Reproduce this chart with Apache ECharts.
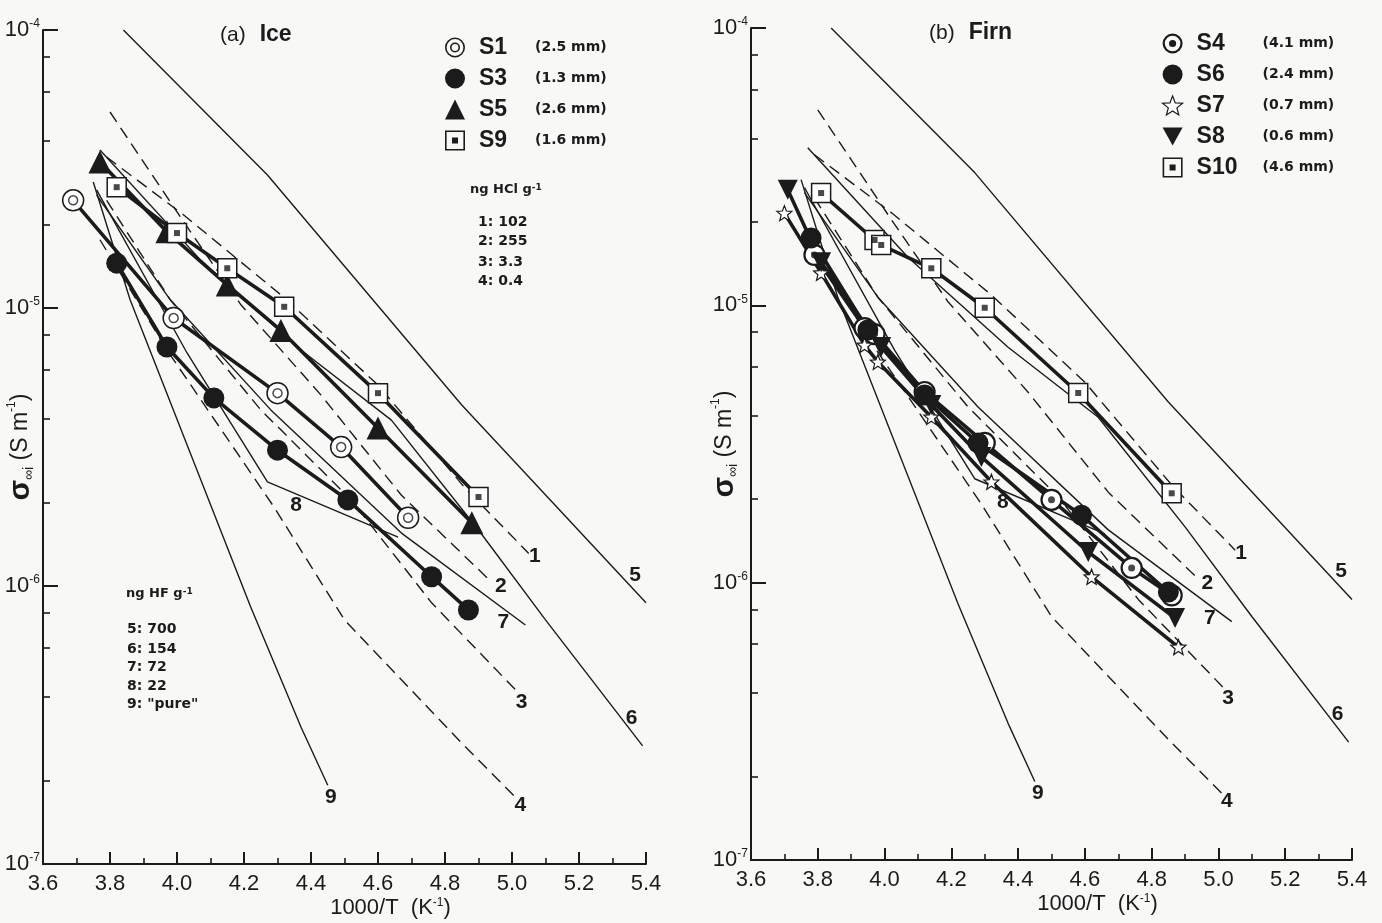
<!DOCTYPE html>
<html>
<head>
<meta charset="utf-8">
<title>Ice and firn conductivity</title>
<script src="https://cdn.jsdelivr.net/npm/echarts@6/dist/echarts.min.js"></script>
<style>
  html, body { margin: 0; padding: 0; background: #f8f9f6; }
  #chart { width: 1382px; height: 923px; }
</style>
</head>
<body>
<div id="chart"></div>
<script>
// points are [1000/T (K^-1), sigma (S m^-1)]

// (a) Ice samples
const s1 = [[3.69, 2.44e-5], [3.99, 9.2e-6], [4.30, 4.94e-6], [4.49, 3.16e-6], [4.69, 1.76e-6]];
const s3 = [[3.82, 1.45e-5], [3.97, 7.24e-6], [4.11, 4.75e-6], [4.30, 3.08e-6], [4.51, 2.04e-6], [4.76, 1.08e-6], [4.87, 8.2e-7]];
const s5 = [[3.77, 3.35e-5], [3.97, 1.88e-5], [4.15, 1.21e-5], [4.31, 8.3e-6], [4.60, 3.70e-6], [4.88, 1.69e-6]];
const s9 = [[3.82, 2.72e-5], [4.00, 1.86e-5], [4.15, 1.39e-5], [4.32, 1.01e-5], [4.60, 4.94e-6], [4.90, 2.09e-6]];

// (b) Firn samples
const s4 = [[3.79, 1.52e-5], [3.94, 8.28e-6], [3.97, 7.88e-6], [4.12, 4.87e-6], [4.30, 3.19e-6], [4.50, 1.99e-6], [4.74, 1.13e-6], [4.86, 9.0e-7]];
const s6 = [[3.78, 1.75e-5], [3.95, 8.15e-6], [4.12, 4.75e-6], [4.28, 3.19e-6], [4.59, 1.75e-6], [4.85, 9.25e-7]];
const s7 = [[3.70, 2.15e-5], [3.81, 1.31e-5], [3.94, 7.19e-6], [3.98, 6.25e-6], [4.14, 3.96e-6], [4.32, 2.31e-6], [4.62, 1.05e-6], [4.88, 5.86e-7]];
const s8 = [[3.71, 2.61e-5], [3.81, 1.43e-5], [3.99, 7.07e-6], [4.14, 4.37e-6], [4.29, 2.84e-6], [4.61, 1.29e-6], [4.87, 7.45e-7]];
const s10 = [[3.81, 2.54e-5], [3.97, 1.72e-5], [3.99, 1.65e-5], [4.14, 1.36e-5], [4.30, 9.8e-6], [4.58, 4.83e-6], [4.86, 2.10e-6]];

const sampleThickness = { S1: '2.5', S3: '1.3', S5: '2.6', S9: '1.6', S4: '4.1', S6: '2.4', S7: '0.7', S8: '0.6', S10: '4.6' };

// reference curves, same in both panels (1-4 HCl doped, 5-9 HF doped)
const hcl1 = [[3.79, 3.49e-5], [4.02, 2.16e-5], [4.32, 1.09e-5], [4.60, 5.28e-6], [4.86, 2.25e-6], [5.05, 1.31e-6]];
const hcl2 = [[3.80, 5.07e-5], [4.02, 2.04e-5], [4.19, 1.03e-5], [4.43, 4.86e-6], [4.67, 2.12e-6], [4.94, 1.03e-6]];
const hcl3 = [[3.79, 2.44e-5], [3.98, 1.07e-5], [4.25, 4.30e-6], [4.52, 2.04e-6], [4.76, 8.7e-7], [5.02, 4.12e-7]];
const hcl4 = [[3.77, 1.76e-5], [3.97, 7.06e-6], [4.29, 1.92e-6], [4.50, 7.55e-7], [4.85, 2.72e-7], [5.01, 1.74e-7]];
const hf5 = [[3.84, 1e-4], [4.27, 3.01e-5], [4.85, 4.48e-6], [5.40, 8.7e-7]];
const hf6 = [[3.77, 3.70e-5], [4.07, 1.49e-5], [4.37, 7.06e-6], [4.64, 3.95e-6], [4.90, 1.59e-6], [5.10, 7.55e-7], [5.39, 2.66e-7]];
const hf7 = [[3.76, 2.55e-5], [3.98, 1.07e-5], [4.28, 4.30e-6], [4.67, 1.55e-6], [5.04, 7.24e-7]];
const hf8 = [[3.76, 2.66e-5], [4.03, 6.89e-6], [4.27, 2.37e-6], [4.66, 1.50e-6]];
const hf9 = [[3.75, 2.84e-5], [3.86, 1.07e-5], [4.22, 8.4e-7], [4.37, 3.11e-7], [4.45, 1.92e-7]];

const hclAmounts = ['102', '255', '3.3', '0.4'];
const hfAmounts = ['700', '154', '72', '22', '"pure"'];

const minorTickValues = [2e-7, 4e-7, 6e-7, 8e-7, 2e-6, 4e-6, 6e-6, 8e-6, 2e-5, 4e-5, 6e-5, 8e-5];

const ink = '#1b1b1b';
const paper = '#f8f9f6';
const font = '"Liberation Sans", Arial, Helvetica, sans-serif';
const smallFont = '"DejaVu Sans", Verdana, sans-serif';

function ring(cx, cy, r, cw) {
  const s = cw ? 1 : 0;
  return `M${cx - r},${cy}A${r},${r},0,1,${s},${cx + r},${cy}A${r},${r},0,1,${s},${cx - r},${cy}Z`;
}
function starPath(R, r) {
  const p = [];
  for (let k = 0; k < 10; k++) {
    const a = -Math.PI / 2 + k * Math.PI / 5;
    const d = k % 2 ? r : R;
    p.push((R + d * Math.cos(a)).toFixed(2) + ',' + (R + d * Math.sin(a)).toFixed(2));
  }
  return 'path://M' + p.join('L') + 'Z';
}

const ICON_DRING = 'path://' + ring(10, 10, 10, 1) + ring(10, 10, 8.4, 0) + ring(10, 10, 5, 1) + ring(10, 10, 3.4, 0);
const ICON_RINGDOT = 'path://' + ring(10, 10, 10, 1) + ring(10, 10, 7.8, 0) + ring(10, 10, 3.6, 1);
const ICON_BOX = 'path://M0,0H20V20H0Z M1.6,1.6V18.4H18.4V1.6Z M7,7H13V13H7Z';
const TRI_DOWN = 'path://M0,0L20,0L10,18Z';
const STAR = starPath(10, 4.3);

const marks = {
  dring: { symbol: 'circle', size: 21, item: { color: '#fff', borderColor: ink, borderWidth: 1.5 },
    inner: { symbol: 'circle', size: 9, item: { color: '#fff', borderColor: ink, borderWidth: 1.5 } },
    icon: ICON_DRING, iconStyle: { color: ink, borderWidth: 0 } },
  dot: { symbol: 'circle', size: 21, item: { color: ink }, icon: 'circle', iconStyle: { color: ink } },
  tri: { symbol: 'triangle', size: 23, item: { color: ink }, icon: 'triangle', iconStyle: { color: ink } },
  box: { symbol: 'rect', size: 19, item: { color: '#fff', borderColor: ink, borderWidth: 1.5 },
    inner: { symbol: 'rect', size: 6, item: { color: ink } },
    icon: ICON_BOX, iconStyle: { color: ink, borderWidth: 0 } },
  ringdot: { symbol: 'circle', size: 20, item: { color: '#fff', borderColor: ink, borderWidth: 2.2 },
    inner: { symbol: 'circle', size: 7, item: { color: ink } },
    icon: ICON_RINGDOT, iconStyle: { color: ink, borderWidth: 0 } },
  star: { symbol: STAR, size: 15, item: { color: '#fff', borderColor: ink, borderWidth: 1.2 },
    icon: STAR, iconStyle: { color: '#fff', borderColor: ink, borderWidth: 1.2 } },
  tridown: { symbol: TRI_DOWN, size: 20, item: { color: ink }, icon: TRI_DOWN, iconStyle: { color: ink } }
};

const samples = [
  { panel: 0, name: 'S1', pts: s1, mark: 'dring' },
  { panel: 0, name: 'S3', pts: s3, mark: 'dot' },
  { panel: 0, name: 'S5', pts: s5, mark: 'tri' },
  { panel: 0, name: 'S9', pts: s9, mark: 'box' },
  { panel: 1, name: 'S4', pts: s4, mark: 'ringdot' },
  { panel: 1, name: 'S6', pts: s6, mark: 'dot' },
  { panel: 1, name: 'S7', pts: s7, mark: 'star' },
  { panel: 1, name: 'S8', pts: s8, mark: 'tridown' },
  { panel: 1, name: 'S10', pts: s10, mark: 'box' }
];

const curves = [
  { tag: '1', pts: hcl1, dashed: true, off: [6, 3] },
  { tag: '2', pts: hcl2, dashed: true, off: [9, 4] },
  { tag: '3', pts: hcl3, dashed: true, off: [3, 9] },
  { tag: '4', pts: hcl4, dashed: true, off: [5, 8] },
  { tag: '5', pts: hf5, dashed: false, off: [-11, -28] },
  { tag: '6', pts: hf6, dashed: false, off: [-11, -28] },
  { tag: '7', pts: hf7, dashed: false, off: [-22, -3] },
  { tag: '8', pts: hf8, dashed: false, off: [-102, -32] },
  { tag: '9', pts: hf9, dashed: false, off: [3, 12] }
];

const grids = [
  { left: 43, top: 30, width: 603, height: 834, containLabel: false, outerBoundsMode: 'none' },
  { left: 751, top: 28, width: 601, height: 832, containLabel: false, outerBoundsMode: 'none' }
];

function xAxisFor(i) {
  return {
    type: 'value', gridIndex: i, min: 3.6, max: 5.4, interval: 0.2,
    axisLine: { lineStyle: { color: ink, width: 2 } },
    axisTick: { inside: true, length: 12, lineStyle: { color: ink, width: 2 } },
    minorTick: { show: true, splitNumber: 2, length: 6, lineStyle: { color: ink, width: 1.6 } },
    splitLine: { show: false },
    axisLabel: { color: ink, fontSize: 22, fontFamily: font, margin: 9, formatter: v => v.toFixed(1) },
    name: '{m|1000/T  (K}{sup|-1}{m|)}',
    nameLocation: 'middle', nameGap: 33, nameMoveOverlap: false,
    nameTextStyle: {
      padding: [0, 0, 0, 92],
      rich: {
        m: { fontSize: 22, fontFamily: font, color: ink, lineHeight: 22 },
        sup: { fontSize: 12, fontFamily: font, color: ink, verticalAlign: 'top', lineHeight: 12 }
      }
    }
  };
}

function yAxesFor(i) {
  return [{
    type: 'log', logBase: 10, gridIndex: i, min: 1e-7, max: 1e-4,
    axisLine: { show: true, lineStyle: { color: ink, width: 2 } },
    axisTick: { show: true, inside: true, length: 15, lineStyle: { color: ink, width: 2 } },
    minorTick: { show: false },
    splitLine: { show: false },
    axisLabel: {
      margin: 3,
      formatter: v => '{b|10}{e|' + Math.round(Math.log10(v)) + '}',
      rich: {
        b: { fontSize: 22, fontFamily: font, color: ink, lineHeight: 24 },
        e: { fontSize: 12, fontFamily: font, color: ink, verticalAlign: 'top', lineHeight: 12 }
      }
    },
    name: '{s|σ}{sub|∞i}{m| (S m}{sup|-1}{m|)}',
    nameLocation: 'middle', nameRotate: 90, nameGap: i ? 11 : 7, nameMoveOverlap: false,
    nameTextStyle: {
      rich: {
        s: { fontSize: 30, fontFamily: font, color: ink, fontWeight: 'bold', lineHeight: 30 },
        sub: { fontSize: 14, fontFamily: font, color: ink, verticalAlign: 'bottom', lineHeight: 14 },
        m: { fontSize: 23, fontFamily: font, color: ink, lineHeight: 26 },
        sup: { fontSize: 12, fontFamily: font, color: ink, verticalAlign: 'top', lineHeight: 12 }
      }
    }
  }, {
    type: 'log', logBase: 10, gridIndex: i, min: 1e-7, max: 1e-4, position: 'left',
    axisLine: { show: false },
    axisLabel: { show: false },
    splitLine: { show: false },
    axisTick: { show: true, inside: true, length: 7, customValues: minorTickValues, lineStyle: { color: ink, width: 1.6 } }
  }];
}

const series = [];

[0, 1].forEach(panel => {
  curves.forEach(c => {
    series.push({
      type: 'line', name: 'curve ' + c.tag + (panel ? 'b' : 'a'),
      xAxisIndex: panel, yAxisIndex: panel * 2,
      data: c.pts, symbol: 'none', z: 2, silent: true,
      lineStyle: { color: ink, width: 1.4, type: c.dashed ? [12, 7] : 'solid' },
      markPoint: {
        symbol: 'circle', symbolSize: 1, silent: true,
        itemStyle: { color: 'rgba(0,0,0,0)' },
        label: {
          show: true, position: 'inside', formatter: c.tag, offset: c.off,
          fontSize: 21, fontWeight: 'bold', fontFamily: font, color: ink
        },
        data: [{ coord: c.pts[c.pts.length - 1] }]
      }
    });
  });
});

samples.forEach(s => {
  const m = marks[s.mark];
  series.push({
    type: 'line', name: s.name,
    xAxisIndex: s.panel, yAxisIndex: s.panel * 2,
    data: s.pts, z: 5, symbol: m.symbol, symbolSize: m.size, showAllSymbol: true,
    lineStyle: { color: ink, width: 3.6 },
    itemStyle: m.item,
    emphasis: { disabled: true }
  });
  if (m.inner) {
    series.push({
      type: 'scatter', name: s.name + ' mark',
      xAxisIndex: s.panel, yAxisIndex: s.panel * 2,
      data: s.pts, z: 6, silent: true,
      symbol: m.inner.symbol, symbolSize: m.inner.size, itemStyle: m.inner.item
    });
  }
});

function legendFor(panel, left, top, nameWidth) {
  return {
    left, top, orient: 'vertical', itemWidth: 20, itemHeight: 20, itemGap: 8,
    selectedMode: false,
    data: samples.filter(s => s.panel === panel).map(s => ({
      name: s.name, icon: marks[s.mark].icon, itemStyle: marks[s.mark].iconStyle
    })),
    formatter: name => '{a|' + name + '}{b|(' + sampleThickness[name] + ' mm)}',
    textStyle: {
      rich: {
        a: { fontSize: 23, fontWeight: 'bold', fontFamily: font, color: ink, width: nameWidth, padding: [0, 0, 0, 9], lineHeight: 22 },
        b: { fontSize: 14, fontWeight: 'bold', fontFamily: smallFont, color: ink, lineHeight: 22 }
      }
    }
  };
}

function note(x, y, text, extra) {
  return Object.assign({
    type: 'text', x, y, silent: true,
    style: { text, fill: ink, font: 'bold 14px ' + smallFont, verticalAlign: 'middle' }
  }, extra || {});
}

const supRich = {
  t: { fontSize: 13, fontWeight: 'bold', fontFamily: smallFont, fill: ink },
  sup: { fontSize: 9, fontWeight: 'bold', fontFamily: smallFont, fill: ink, verticalAlign: 'top' }
};

const titleRich = {
  p: { fontSize: 21, fontFamily: font, fill: ink },
  t: { fontSize: 23, fontWeight: 'bold', fontFamily: font, fill: ink, padding: [0, 0, 0, 14] }
};

const graphic = [
  { type: 'text', x: 220, y: 35, silent: true,
    style: { text: '{p|(a)}{t|Ice}', verticalAlign: 'middle', rich: titleRich } },
  { type: 'text', x: 929, y: 33, silent: true,
    style: { text: '{p|(b)}{t|Firn}', verticalAlign: 'middle', rich: titleRich } },
  { type: 'text', x: 470, y: 190, silent: true,
    style: { text: '{t|ng HCl g}{sup|-1}', verticalAlign: 'middle', rich: supRich } },
  { type: 'text', x: 126, y: 594, silent: true,
    style: { text: '{t|ng HF g}{sup|-1}', verticalAlign: 'middle', rich: supRich } }
];
const hclRows = [222, 241, 262, 281];
hclAmounts.forEach((a, k) => graphic.push(note(478, hclRows[k], (k + 1) + ': ' + a)));
const hfRows = [629, 649, 667, 686, 704];
hfAmounts.forEach((a, k) => graphic.push(note(127, hfRows[k], (k + 5) + ': ' + a)));

const chart = echarts.init(document.getElementById('chart'), null, { renderer: 'canvas' });
chart.setOption({
  backgroundColor: paper,
  animation: false,
  textStyle: { fontFamily: font },
  grid: grids,
  xAxis: [xAxisFor(0), xAxisFor(1)],
  yAxis: [...yAxesFor(0), ...yAxesFor(1)],
  legend: [legendFor(0, 440, 31, 56), legendFor(1, 1157, 27, 66)],
  graphic,
  series
});
</script>
</body>
</html>
